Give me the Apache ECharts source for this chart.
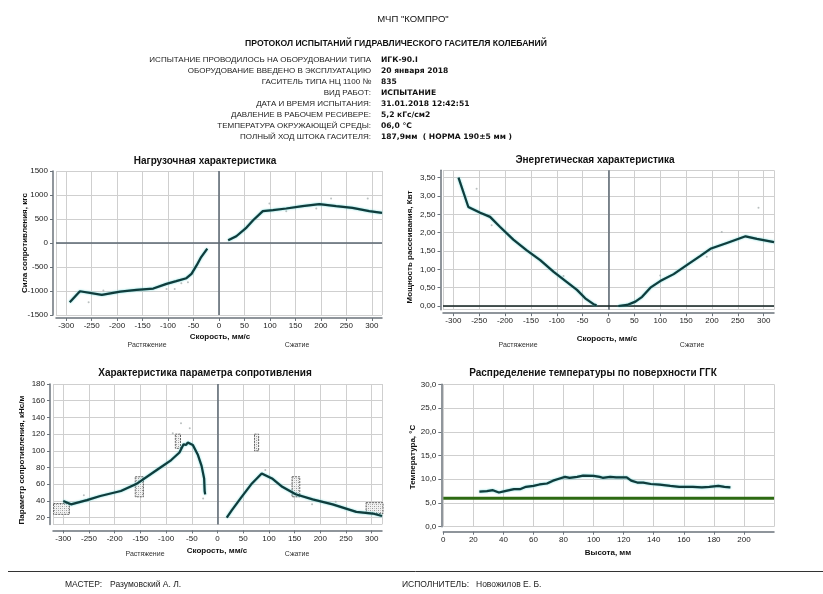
<!DOCTYPE html>
<html>
<head>
<meta charset="utf-8">
<script src="https://cdn.jsdelivr.net/npm/echarts@6/dist/echarts.min.js"></script>
<style>
html,body{margin:0;padding:0;background:#fff}
#main{width:823px;height:594px}
</style>
</head>
<body>
<div id="main"></div>
<script>
// шапка протокола
var headTitle = 'МЧП "КОМПРО"';
var headProtocol = 'ПРОТОКОЛ ИСПЫТАНИЙ ГИДРАВЛИЧЕСКОГО ГАСИТЕЛЯ КОЛЕБАНИЙ';
var headLabels = ['ИСПЫТАНИЕ ПРОВОДИЛОСЬ НА ОБОРУДОВАНИИ ТИПА', 'ОБОРУДОВАНИЕ ВВЕДЕНО В ЭКСПЛУАТАЦИЮ',
  'ГАСИТЕЛЬ ТИПА НЦ 1100 №', 'ВИД РАБОТ:', 'ДАТА И ВРЕМЯ ИСПЫТАНИЯ:', 'ДАВЛЕНИЕ В РАБОЧЕМ РЕСИВЕРЕ:',
  'ТЕМПЕРАТУРА ОКРУЖАЮЩЕЙ СРЕДЫ:', 'ПОЛНЫЙ ХОД ШТОКА ГАСИТЕЛЯ:'];
var headValues = ['ИГК-90.I', '20 января 2018', '835', 'ИСПЫТАНИЕ', '31.01.2018 12:42:51', '5,2 кГс/см2',
  '06,0 °С', '187,9мм  ( НОРМА 190±5 мм )'];
var footLabels = ['МАСТЕР:', 'ИСПОЛНИТЕЛЬ:'];
var footNames = ['Разумовский А. Л.', 'Новожилов Е. Б.'];

// нагрузочная характеристика
var loadLeftX = [-293, -273, -230, -194, -162, -129, -103, -84, -64, -54, -44, -35, -23];
var loadLeftY = [-1235, -1005, -1082, -1012, -977, -949, -851, -795, -733, -642, -467, -293, -119];
var loadRightX = [18, 34, 54, 67, 86, 106, 132, 164, 197, 230, 262, 295, 320];
var loadRightY = [56, 140, 321, 474, 663, 684, 719, 768, 810, 768, 733, 663, 628];
var loadDotsX = [-256, -227, -103, -87, -74, -61, 99, 132, 191, 220, 292];
var loadDotsY = [-1235, -990, -956, -956, -837, -816, 823, 663, 719, 928, 928];

// энергетическая характеристика
var energyLeftX = [-290, -271, -248, -229, -210, -184, -158, -132, -106, -81, -61, -45, -29, -23];
var energyLeftY = [3.50, 2.70, 2.54, 2.43, 2.16, 1.81, 1.52, 1.25, 0.93, 0.66, 0.44, 0.21, 0.05, 0.02];
var energyRightX = [19, 36, 52, 65, 81, 100, 126, 152, 177, 197, 229, 265, 287, 320];
var energyRightY = [0, 0.03, 0.12, 0.25, 0.50, 0.68, 0.87, 1.12, 1.36, 1.56, 1.72, 1.90, 1.83, 1.74];
var energyDotsX = [-255, -226, -87, 100, 190, 219, 290];
var energyDotsY = [3.2, 2.2, 0.82, 0.83, 1.34, 2.02, 2.68];

// параметр сопротивления
var resLeftX = [-300, -285, -254, -228, -188, -156, -116, -90, -74, -66, -61, -58, -48, -38, -31, -26, -25, -24];
var resLeftY = [40, 36, 41, 46, 52, 61, 78, 89, 98, 108, 107, 110, 107, 95, 82, 67, 52, 48];
var resRightX = [18, 28, 47, 67, 86, 106, 126, 152, 185, 224, 270, 302, 320];
var resRightY = [20, 29, 45, 61, 73, 67, 57, 48, 42, 36, 27, 25, 22];
var resDotsX = [-260, -87, -71, -54, -28, 93, 184, 230];
var resDotsY = [47, 121, 133, 127, 43, 77, 36, 39];
// допуски: [x1, x2, y1, y2]
var resBoxes = [[-319, -288, 24, 37], [-160, -144, 45, 69], [-82, -72, 103, 120],
  [72, 80, 100, 120], [145, 160, 45, 69], [289, 322, 25, 38]];

// температура по высоте
var tempX = [24, 29, 33, 37, 41, 47, 51, 55, 60, 64, 69, 73, 78, 81, 84, 89, 93, 100, 104, 106, 111, 115,
  122, 125, 129, 133, 138, 144, 151, 157, 166, 172, 177, 183, 187, 191];
var tempY = [7.4, 7.5, 7.7, 7.2, 7.5, 7.9, 7.9, 8.4, 8.6, 8.9, 9.1, 9.7, 10.2, 10.5, 10.3, 10.5, 10.75, 10.7,
  10.5, 10.3, 10.5, 10.4, 10.4, 9.7, 9.3, 9.3, 9.0, 8.85, 8.6, 8.4, 8.4, 8.3, 8.4, 8.6, 8.4, 8.3];
var ambientTemp = 6.0;

function zip(xs, ys) {
  return xs.map(function (x, i) { return [x, ys[i]]; });
}

var FONT = '"Liberation Sans", Arial, sans-serif';
var WIDE = '"DejaVu Sans", Verdana, sans-serif';
var AXIS_COLOR = '#6b737b';
var GRID_COLOR = '#cfcfcf';

// штриховка для допусков
var hatch = document.createElement('canvas');
hatch.width = 4; hatch.height = 4;
var hctx = hatch.getContext('2d');
hctx.fillStyle = '#f2f2f2'; hctx.fillRect(0, 0, 4, 4);
hctx.fillStyle = '#9a9a9a';
hctx.fillRect(0, 0, 1, 1); hctx.fillRect(2, 2, 1, 1);
hctx.fillStyle = '#c4c4c4';
hctx.fillRect(2, 0, 1, 1); hctx.fillRect(0, 2, 1, 1);

function plain(v) { return String(v); }
function comma(d) {
  return function (v) { return v.toFixed(d).replace('.', ','); };
}

function xAxis(idx, min, max, opt) {
  var a = {
    type: 'value', gridIndex: idx, min: min, max: max, offset: opt.offset,
    axisLine: { show: true, onZero: false, lineStyle: { color: AXIS_COLOR, width: 1.5 } },
    axisTick: { show: true, length: 3, lineStyle: { color: AXIS_COLOR } },
    axisLabel: { fontSize: 8, color: '#222', fontFamily: FONT, margin: 4, interval: 0,
      showMinLabel: opt.showMin, showMaxLabel: opt.showMax, formatter: plain },
    splitLine: { show: true, lineStyle: { color: GRID_COLOR, width: 1 } }
  };
  if (opt.interval) a.interval = opt.interval;
  if (opt.splitNumber) a.splitNumber = opt.splitNumber;
  return a;
}

function yAxis(idx, min, max, opt) {
  var a = {
    type: 'value', gridIndex: idx, min: min, max: max, offset: opt.offset,
    axisLine: { show: true, onZero: false, lineStyle: { color: AXIS_COLOR, width: 1.5 } },
    axisTick: { show: true, length: 3, lineStyle: { color: AXIS_COLOR } },
    axisLabel: { fontSize: 8, color: '#222', fontFamily: FONT, margin: 5,
      showMinLabel: opt.showMin, showMaxLabel: opt.showMax, formatter: opt.fmt || plain },
    splitLine: { show: true, lineStyle: { color: GRID_COLOR, width: 1 } }
  };
  if (opt.interval) a.interval = opt.interval;
  if (opt.splitNumber) a.splitNumber = opt.splitNumber;
  return a;
}

function curve(idx, data, mark) {
  var s = {
    type: 'line', xAxisIndex: idx, yAxisIndex: idx, data: data, symbol: 'none', z: 5,
    lineStyle: { color: '#103c3c', width: 2.2, shadowColor: 'rgba(70,205,205,0.85)', shadowBlur: 2 }
  };
  if (mark) {
    s.markLine = { silent: true, symbol: 'none', label: { show: false }, animation: false, data: mark };
  }
  return s;
}

function dots(idx, data) {
  return { type: 'scatter', xAxisIndex: idx, yAxisIndex: idx, data: data, symbolSize: 2, z: 3,
    itemStyle: { color: '#a9b0b0' } };
}

var zeroX = { xAxis: 0, lineStyle: { color: '#5a6670', width: 1.5, type: 'solid' } };
var zeroY = { yAxis: 0, lineStyle: { color: '#5a6670', width: 1.5, type: 'solid' } };
var zeroYdark = { yAxis: 0, lineStyle: { color: '#10201f', width: 1.5, type: 'solid' } };

// тексты
var texts = [];
function txt(x, y, s, size, bold, align, color, rot, family) {
  texts.push({
    type: 'text', x: x, y: y, rotation: rot || 0, silent: true,
    style: { text: s, fontSize: size, fontWeight: bold ? 'bold' : 'normal', fontFamily: family || FONT,
      fill: color || '#111', align: align || 'left', verticalAlign: 'middle' }
  });
}
txt(413, 19, headTitle, 9.5, false, 'center');
txt(396, 44, headProtocol, 8.6, true, 'center');
var rowY = [60, 71, 82, 93, 104, 115, 126, 137];
headLabels.forEach(function (s, i) { txt(371, rowY[i], s, 8, false, 'right', '#222'); });
headValues.forEach(function (s, i) { txt(381, rowY[i], s, 7.6, true, 'left', '#111', 0, WIDE); });

txt(205, 161, 'Нагрузочная характеристика', 10, true, 'center');
txt(595, 160, 'Энергетическая характеристика', 10, true, 'center');
txt(205, 373, 'Характеристика параметра сопротивления', 10, true, 'center');
txt(593, 373, 'Распределение температуры по поверхности ГГК', 10, true, 'center');

txt(220, 337, 'Скорость, мм/с', 8, true, 'center');
txt(607, 339, 'Скорость, мм/с', 8, true, 'center');
txt(217, 551, 'Скорость, мм/с', 8, true, 'center');
txt(608, 553, 'Высота, мм', 8, true, 'center');

txt(147, 345, 'Растяжение', 7, false, 'center', '#333');
txt(297, 345, 'Сжатие', 7, false, 'center', '#333');
txt(518, 345, 'Растяжение', 7, false, 'center', '#333');
txt(692, 345, 'Сжатие', 7, false, 'center', '#333');
txt(145, 554, 'Растяжение', 7, false, 'center', '#333');
txt(297, 554, 'Сжатие', 7, false, 'center', '#333');

txt(25, 243, 'Сила сопротивления, кгс', 8, true, 'center', '#111', Math.PI / 2);
txt(410, 247, 'Мощность рассеивания, Квт', 8, true, 'center', '#111', Math.PI / 2);
txt(22, 460, 'Параметр сопротивления, кНс/м', 8, true, 'center', '#111', Math.PI / 2);
txt(413, 457, 'Температура, °С', 8, true, 'center', '#111', Math.PI / 2);

txt(65, 585, footLabels[0], 8.5, false, 'left', '#222');
txt(110, 585, footNames[0], 8.5, false, 'left', '#222');
txt(402, 585, footLabels[1], 8.5, false, 'left', '#222');
txt(476, 585, footNames[1], 8.5, false, 'left', '#222');
texts.push({ type: 'line', silent: true, shape: { x1: 8, y1: 571.5, x2: 823, y2: 571.5 },
  style: { stroke: '#333', lineWidth: 1 } });

var chart = echarts.init(document.getElementById('main'));
chart.setOption({
  backgroundColor: '#fff',
  animation: false,
  grid: [
    { left: 56, top: 171, width: 326, height: 144 },
    { left: 443, top: 170.3, width: 331, height: 139.4 },
    { left: 53, top: 384, width: 329, height: 140.4 },
    { left: 443.3, top: 384.3, width: 330.7, height: 142.4 }
  ],
  xAxis: [
    xAxis(0, -320, 320, { offset: 3, splitNumber: 13, showMin: false, showMax: false }),
    xAxis(1, -320, 320, { offset: 3.5, splitNumber: 13, showMin: false, showMax: false }),
    xAxis(2, -320, 320, { offset: 6, splitNumber: 13, showMin: false, showMax: false }),
    xAxis(3, 0, 220, { offset: 5, interval: 20, showMin: true, showMax: false })
  ],
  yAxis: [
    yAxis(0, -1500, 1500, { offset: 3, interval: 500, showMin: true, showMax: true }),
    yAxis(1, -0.1, 3.7, { offset: 2.5, splitNumber: 8, showMin: false, showMax: false, fmt: comma(2) }),
    yAxis(2, 12, 180, { offset: 3, splitNumber: 8, showMin: false, showMax: true }),
    yAxis(3, 0, 30, { offset: 2, interval: 5, showMin: true, showMax: true, fmt: comma(1) })
  ],
  series: [
    dots(0, zip(loadDotsX, loadDotsY)),
    curve(0, zip(loadLeftX, loadLeftY), [zeroX, zeroY]),
    curve(0, zip(loadRightX, loadRightY)),
    dots(1, zip(energyDotsX, energyDotsY)),
    curve(1, zip(energyLeftX, energyLeftY), [zeroX, zeroYdark]),
    curve(1, zip(energyRightX, energyRightY)),
    dots(2, zip(resDotsX, resDotsY)),
    {
      type: 'custom', xAxisIndex: 2, yAxisIndex: 2, data: resBoxes, z: 4,
      encode: { x: [0, 1], y: [2, 3] },
      renderItem: function (params, api) {
        var p1 = api.coord([api.value(0), api.value(3)]);
        var p2 = api.coord([api.value(1), api.value(2)]);
        return {
          type: 'rect',
          shape: { x: p1[0], y: p1[1], width: p2[0] - p1[0], height: p2[1] - p1[1] },
          style: { fill: { image: hatch, repeat: 'repeat' }, stroke: '#666', lineWidth: 1, lineDash: [2, 1] }
        };
      }
    },
    curve(2, zip(resLeftX, resLeftY), [zeroX]),
    curve(2, zip(resRightX, resRightY)),
    {
      type: 'line', xAxisIndex: 3, yAxisIndex: 3, symbol: 'none', z: 4,
      data: [[0, ambientTemp], [220, ambientTemp]],
      lineStyle: { color: '#2d6a12', width: 3 }
    },
    curve(3, zip(tempX, tempY))
  ],
  graphic: texts
});
</script>
</body>
</html>
